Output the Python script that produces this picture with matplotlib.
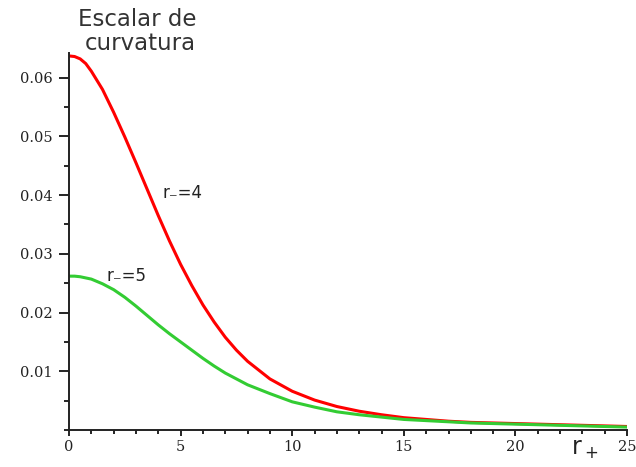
import matplotlib
matplotlib.use("Agg")
import matplotlib.pyplot as plt
from matplotlib.ticker import MultipleLocator

# r+ values and curvature scalar
r_plus = [0, 0.25, 0.5, 0.75, 1, 1.5, 2, 2.5, 3, 3.5, 4, 4.5, 5, 5.5, 6, 6.5,
          7, 7.5, 8, 9, 10, 11, 12, 13, 14, 15, 16, 17, 18, 19, 20, 21, 22,
          23, 24, 25]
escalar_r4 = [0.0637, 0.0636, 0.0632, 0.0624, 0.0611, 0.0580, 0.0541, 0.0499,
              0.0455, 0.0410, 0.0365, 0.0322, 0.0282, 0.0246, 0.0213, 0.0184,
              0.0158, 0.0136, 0.0117, 0.0087, 0.0066, 0.0051, 0.0040, 0.0032,
              0.0026, 0.0021, 0.0018, 0.0015, 0.0013, 0.0012, 0.0011, 0.0010,
              0.0009, 0.0008, 0.0007, 0.0006]
escalar_r5 = [0.0262, 0.0262, 0.0261, 0.0259, 0.0257, 0.0249, 0.0239, 0.0226,
              0.0211, 0.0195, 0.0179, 0.0164, 0.0150, 0.0136, 0.0122, 0.0109,
              0.0097, 0.0087, 0.0077, 0.0062, 0.0048, 0.0039, 0.0031, 0.0026,
              0.0022, 0.0018, 0.0016, 0.0014, 0.0012, 0.0011, 0.0010, 0.0009,
              0.0008, 0.0007, 0.0006, 0.0005]
x_ticks = [0, 5, 10, 15, 20, 25]
y_ticks = [0.01, 0.02, 0.03, 0.04, 0.05, 0.06]

fig = plt.figure(figsize=(6.36, 4.67), dpi=100)
ax = fig.add_axes([0.1085, 0.0792, 0.8775, 0.8073])

ax.plot(r_plus, escalar_r4, color='#ff0000', lw=2.2, solid_capstyle='butt')
ax.plot(r_plus, escalar_r5, color='#33cc33', lw=2.2, solid_capstyle='butt')

ax.set_xlim(0, 25)
ax.set_ylim(0, 0.0642)

for s in ['top', 'right']:
    ax.spines[s].set_visible(False)
for s in ['left', 'bottom']:
    ax.spines[s].set_linewidth(1.4)
    ax.spines[s].set_color('#222222')

ax.set_xticks(x_ticks)
ax.set_yticks(y_ticks)
ax.set_yticklabels(['%.2f' % v for v in y_ticks])
ax.xaxis.set_minor_locator(MultipleLocator(1))
ax.yaxis.set_minor_locator(MultipleLocator(0.005))
ax.tick_params(axis='y', which='major', length=7, width=1.2, pad=5)
ax.tick_params(axis='y', which='minor', length=3.6, width=1.2)
ax.tick_params(axis='x', which='major', length=4.5, width=1.2, pad=3)
ax.tick_params(axis='x', which='minor', length=3, width=1.2)
for lab in ax.get_xticklabels() + ax.get_yticklabels():
    lab.set_fontfamily('DejaVu Serif')
    lab.set_fontsize(10.5)
    lab.set_color('#222222')

# title, right aligned in two lines
fig.text(196 / 636, 1 - 26 / 467, 'Escalar de', ha='right', va='baseline',
         fontsize=16.5, family='DejaVu Sans', color='#333333')
fig.text(196 / 636, 1 - 50 / 467, 'curvatura', ha='right', va='baseline',
         fontsize=16.5, family='DejaVu Sans', color='#333333')

ax.text(4.2, 0.0395, 'r\u208b=4', ha='left', va='baseline', fontsize=12,
        family='DejaVu Sans', color='#222222')
ax.text(1.7, 0.0253, 'r\u208b=5', ha='left', va='baseline', fontsize=12,
        family='DejaVu Sans', color='#222222')

fig.text(571 / 636, 1 - 455 / 467, r'$\mathregular{r_+}$', ha='left',
         va='baseline', fontsize=17, color='#222222')

fig.savefig('out.png', dpi=100)
